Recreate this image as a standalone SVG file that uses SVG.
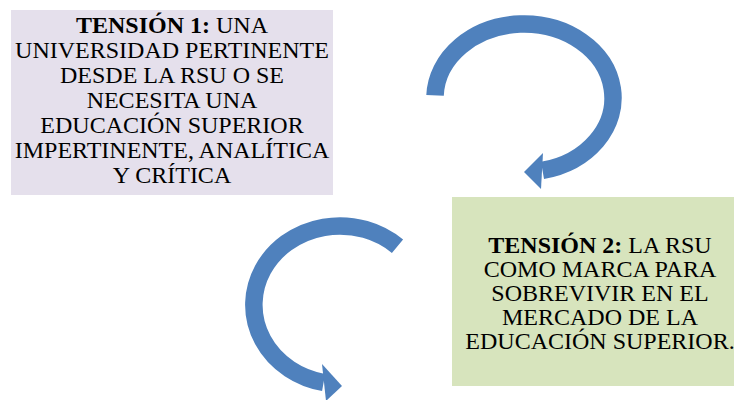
<svg xmlns="http://www.w3.org/2000/svg" width="734" height="400" viewBox="0 0 734 400">
  <style>
    .t { font-family: "Liberation Serif", "Times New Roman", serif; font-size: 24px; fill: #000; text-anchor: middle; }
    .b { font-weight: bold; }
    .arc { fill: none; stroke: #4F81BD; stroke-width: 17.5; stroke-linecap: butt; }
    .head { fill: #4F81BD; }
  </style>
  <rect width="734" height="400" fill="#FFFFFF"/>
  <g id="tension1">
    <rect x="11" y="10" width="322" height="185" fill="#E5E0EC"/>
    <text class="t" x="172" y="33"><tspan class="b">TENSIÓN 1:</tspan> UNA</text>
    <text class="t" x="172" y="58">UNIVERSIDAD PERTINENTE</text>
    <text class="t" x="172" y="83">DESDE LA RSU O SE</text>
    <text class="t" x="172" y="108">NECESITA UNA</text>
    <text class="t" x="172" y="133">EDUCACIÓN SUPERIOR</text>
    <text class="t" x="172" y="158">IMPERTINENTE, ANALÍTICA</text>
    <text class="t" x="172" y="183">Y CRÍTICA</text>
  </g>
  <g id="tension2">
    <rect x="452" y="197" width="282" height="189" fill="#D7E4BD"/>
    <text class="t" x="600" y="253"><tspan class="b">TENSIÓN 2:</tspan> LA RSU</text>
    <text class="t" x="600" y="277">COMO MARCA PARA</text>
    <text class="t" x="600" y="301">SOBREVIVIR EN EL</text>
    <text class="t" x="600" y="325">MERCADO DE LA</text>
    <text class="t" x="600" y="349">EDUCACIÓN SUPERIOR.</text>
  </g>
  <g id="connectors">
    <path class="arc" d="M435.05,95.4 A89,74 0 1 1 542.5,170.4"/>
    <polygon class="head" points="524,172 543,153 541,189"/>
    <path class="arc" d="M397.5,246.3 A86,79 0 1 0 323.6,382.5"/>
    <polygon class="head" points="342,386 322,364 326,401"/>
  </g>
</svg>
